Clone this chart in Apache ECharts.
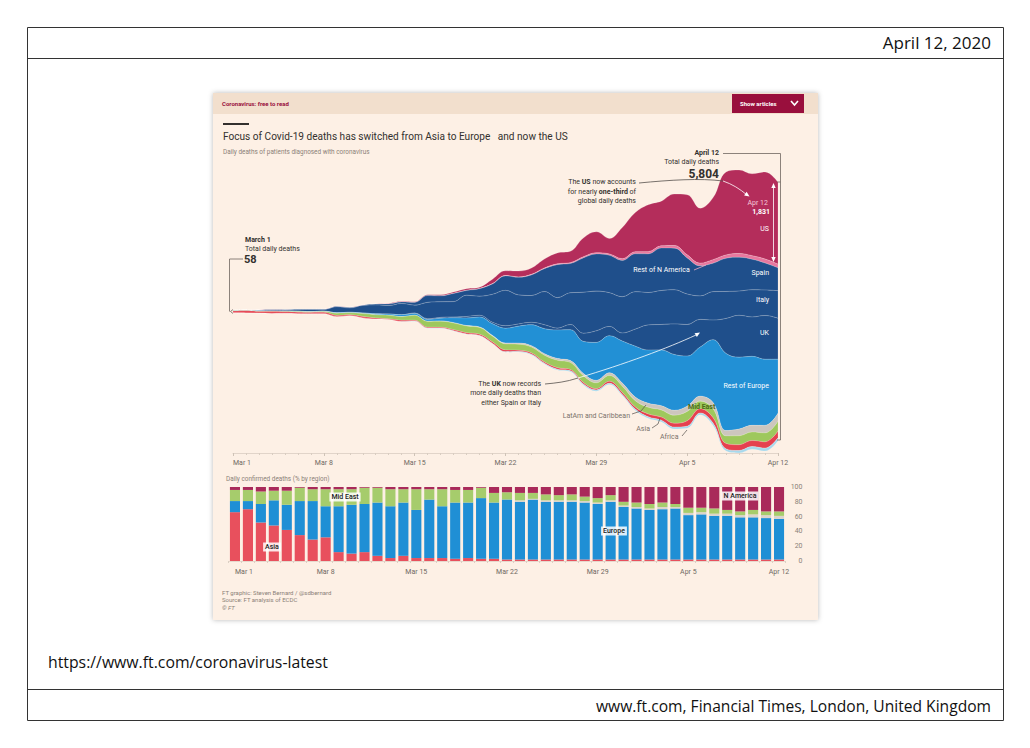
<!DOCTYPE html>
<html>
<head>
<meta charset="utf-8">
<title>Focus of Covid-19 deaths</title>
<script src="https://cdn.jsdelivr.net/npm/echarts@6/dist/echarts.min.js"></script>
<style>
  html, body { margin: 0; padding: 0; background: #fff; }
  #chart { width: 1030px; height: 748px; }
</style>
</head>
<body>
<div id="chart"></div>
<script>
// day labels, Mar 1 .. Apr 12
const days = ['Mar 1','Mar 2','Mar 3','Mar 4','Mar 5','Mar 6','Mar 7','Mar 8','Mar 9','Mar 10',
  'Mar 11','Mar 12','Mar 13','Mar 14','Mar 15','Mar 16','Mar 17','Mar 18','Mar 19','Mar 20',
  'Mar 21','Mar 22','Mar 23','Mar 24','Mar 25','Mar 26','Mar 27','Mar 28','Mar 29','Mar 30',
  'Mar 31','Apr 1','Apr 2','Apr 3','Apr 4','Apr 5','Apr 6','Apr 7','Apr 8','Apr 9',
  'Apr 10','Apr 11','Apr 12'];

// daily deaths per layer (top to bottom of the stream)
const us = [2,1,3,4,3,1,2,3,4,4,2,4,10,12,10,17,23,30,36,30,100,105,130,140,200,245,255,420,470,345,700,880,1050,1000,1150,1345,1230,1390,1860,1870,1835,1950,1831];
const restNA = [0,0,0,0,0,0,0,0,0,1,1,1,1,2,2,2,3,4,5,5,6,8,10,12,15,18,20,25,25,30,40,45,50,50,60,70,60,80,75,85,80,90,85];
const spain = [0,0,0,1,1,2,2,5,7,11,7,20,37,36,62,152,133,182,107,169,235,324,394,462,514,738,655,769,832,838,812,849,864,950,932,809,674,637,743,757,683,605,510];
const italy = [8,5,18,27,28,41,49,36,133,97,168,196,189,250,175,368,349,345,475,427,627,793,651,601,743,683,712,919,889,756,812,837,727,760,766,681,525,636,604,542,610,570,619];
const uk = [0,0,0,0,0,1,0,1,0,1,1,1,2,1,10,14,20,16,33,40,33,56,48,54,87,41,115,181,260,209,180,381,563,569,684,708,621,439,786,938,881,980,917];
const restEurope = [2,1,2,2,2,3,3,4,8,10,12,20,25,40,40,40,60,110,170,220,260,330,380,470,560,640,690,720,850,830,940,1140,1190,1250,1250,1120,1100,1410,1725,1610,1545,1480,1210];
const latAm = [0,0,0,0,0,0,0,0,1,1,1,2,2,3,3,4,5,8,10,12,15,20,25,30,35,40,45,50,55,60,70,80,90,95,110,120,110,140,120,150,150,170,180];
const midEast = [9,10,12,11,15,18,17,22,52,43,63,71,80,80,111,130,135,150,150,150,130,135,135,130,150,165,155,150,130,130,140,140,150,160,180,210,170,200,170,200,190,200,220];
const asia = [38,47,37,40,34,35,30,31,27,21,33,24,14,31,16,20,20,25,30,30,35,40,25,30,30,35,30,35,30,45,45,50,65,70,85,120,95,120,120,130,135,140,150];
const africa = [0,0,0,0,0,0,0,1,1,1,1,2,2,2,3,3,4,5,6,8,8,10,12,15,15,18,20,20,25,25,25,30,30,35,40,45,40,50,50,55,60,65,65];

// share of daily confirmed deaths by region, %
const asiaPct = [66,70,52,48,42,35,29,32,12,10,12,7,4,7,4,4,4,3,4,3,3,2,2,2,2,2,2,2,2,2,2,2,2,2,2,2,2,2,2,2,2,2,2];
const europePct = [15,11,25,34,34,46,52,42,62,66,65,72,70,72,65,79,70,76,75,82,76,81,78,81,78,78,78,77,75,78,71,69,67,68,69,60,61,59,59,57,57,56,55];
const otherPct = [0,0,0,0,0,0,0,0,0,0,0,0,0,0,0,0,0,0,0,0,0,0,2,1,2,2,2,2,2,2,2,2,2,3,2,3,3,3,3,3,4,4,4];
const midEastPct = [15,15,17,13,19,18,16,23,23,21,22,20,23,18,28,14,23,17,17,14,13,10,10,8,8,7,8,6,6,7,5,6,6,6,4,7,6,7,5,5,6,5,6];
const nAmericaPct = [4,4,6,5,5,1,3,3,3,3,1,1,3,3,3,3,3,4,4,1,8,7,8,8,10,11,10,13,15,11,20,21,23,21,23,28,28,29,31,33,31,33,33];

const yTicks = [0, 20, 40, 60, 80, 100];

const layers = [
    ['US', us, '#b42d5b'],
    ['Rest of N America', restNA, '#e8789f'],
    ['Spain', spain, '#1f4f8b'],
    ['Italy', italy, '#1f4f8b'],
    ['UK', uk, '#1f4f8b'],
    ['Rest of Europe', restEurope, '#2290d5'],
    ['LatAm and Caribbean', latAm, '#cdc6be'],
    ['Mid East', midEast, '#9ec85d'],
    ['Asia', asia, '#e5414f'],
    ['Africa', africa, '#a7d8ec']
];

const riverData = [];
layers.forEach(function (layer) {
    layer[1].forEach(function (v, i) {
        riverData.push([i, v, layer[0]]);
    });
});

const FT = 'Roboto, "Noto Sans", sans-serif';
const PAGE = '"Open Sans", Lato, sans-serif';
const INK = '#33302e';
const GREY = '#8b8178';

// stream geometry (used only to place annotation leaders)
const riverTop = 170;
const riverHeight = 283;
const riverMid = riverTop + riverHeight / 2;

function txt(x, y, text, font, fill, align, extra) {
    const el = {
        type: 'text', z: 100, x: x, y: y,
        style: {
            text: text, font: font, fill: fill || INK,
            textAlign: align || 'left', textVerticalAlign: 'middle'
        }
    };
    if (extra) Object.assign(el.style, extra);
    return el;
}
function line(points, color, width) {
    return {
        type: 'polyline', z: 100,
        shape: { points: points },
        style: { stroke: color, lineWidth: width || 0.8, fill: null }
    };
}
function curve(x1, y1, cx1, cy1, cx2, cy2, x2, y2, color, width) {
    return {
        type: 'bezierCurve', z: 100,
        shape: { x1: x1, y1: y1, cpx1: cx1, cpy1: cy1, cpx2: cx2, cpy2: cy2, x2: x2, y2: y2 },
        style: { stroke: color, lineWidth: width || 0.8, fill: null }
    };
}
function head(x, y, angle, color) {
    // small arrow head pointing along angle (radians)
    const l = 5, w = 2.2;
    const bx = x - l * Math.cos(angle), by = y - l * Math.sin(angle);
    const nx = -Math.sin(angle) * w, ny = Math.cos(angle) * w;
    return {
        type: 'polygon', z: 101,
        shape: { points: [[x, y], [bx + nx, by + ny], [bx - nx, by - ny]] },
        style: { fill: color }
    };
}
function tag(x, y, text) {
    return txt(x, y, text, '500 7px ' + FT, '#222', 'center', {
        backgroundColor: 'rgba(255,255,255,0.85)', padding: [1, 2]
    });
}

const chart = echarts.init(document.getElementById('chart'), null, { renderer: 'svg' });

const graphics = [
    // page frame
    { type: 'rect', z: -10, shape: { x: 27.5, y: 27.5, width: 976, height: 693 }, style: { fill: '#fff', stroke: '#333', lineWidth: 1 } },
    line([[27.5, 58.5], [1003.5, 58.5]], '#333', 1),
    line([[27.5, 689.5], [1003.5, 689.5]], '#333', 1),
    txt(991, 42, 'April 12, 2020', '17px ' + PAGE, '#111', 'right'),
    txt(48, 662, 'https://www.ft.com/coronavirus-latest', '15.8px ' + PAGE, '#111', 'left'),
    txt(991, 706, 'www.ft.com, Financial Times, London, United Kingdom', '15.6px ' + PAGE, '#111', 'right'),

    // FT panel
    { type: 'rect', z: -9, shape: { x: 213, y: 93, width: 605, height: 527 }, style: { fill: '#fdf0e5', shadowBlur: 5, shadowColor: 'rgba(0,0,0,0.28)' } },
    { type: 'rect', z: -8, shape: { x: 213, y: 93, width: 605, height: 21 }, style: { fill: '#f2dfcd' } },
    txt(222, 103.5, 'Coronavirus: free to read', 'bold 6px ' + FT, '#990f3d'),
    { type: 'rect', z: 100, shape: { x: 732, y: 94, width: 72, height: 19 }, style: { fill: '#990f3d' } },
    txt(740, 103.5, 'Show articles', 'bold 6px ' + FT, '#fff'),
    line([[791, 101], [794.5, 105], [798, 101]], '#fff', 1.6),
    { type: 'rect', z: 100, shape: { x: 223, y: 123, width: 26, height: 2 }, style: { fill: INK } },
    txt(223, 136, 'Focus of Covid-19 deaths has switched from Asia to Europe   and now the US', '10.1px ' + FT, INK),
    txt(223, 152, 'Daily deaths of patients diagnosed with coronavirus', '6.4px ' + FT, GREY),

    // March 1 call-out
    txt(245, 240, 'March 1', 'bold 7px ' + FT, INK),
    txt(245, 248.5, 'Total daily deaths', '7px ' + FT, INK),
    txt(244, 259, '58', 'bold 11px ' + FT, INK),
    line([[243, 259], [229.5, 259], [229.5, riverMid]], '#6e6660', 0.8),
    line([[233, riverMid - 2], [230.5, riverMid], [233, riverMid + 2]], '#6e6660', 0.8),

    // April 12 call-out
    txt(719, 153, 'April 12', 'bold 7px ' + FT, INK, 'right'),
    txt(719, 162, 'Total daily deaths', '7px ' + FT, INK, 'right'),
    txt(719, 173.5, '5,804', 'bold 12px ' + FT, INK, 'right'),
    line([[723, 153.5], [780.5, 153.5], [780.5, 440], [777, 440]], '#6e6660', 0.8),
    line([[777, 182], [780.5, 182]], '#6e6660', 0.8),

    // US share arrow
    line([[773.5, 186], [773.5, 259]], '#fff', 0.8),
    head(773.5, 183, -Math.PI / 2, '#fff'),
    head(773.5, 262, Math.PI / 2, '#fff'),
    txt(768, 203, 'Apr 12', '7px ' + FT, '#f6c9d8', 'right'),
    txt(770, 211.5, '1,831', 'bold 7px ' + FT, '#fff', 'right'),
    txt(769, 229, 'US', '7px ' + FT, '#fff', 'right'),
    {
        type: 'text', z: 100, x: 636, y: 191.5,
        style: {
            text: '{n|The }{b|US}{n| now accounts}\n{n|for nearly }{b|one-third}{n| of}\n{n|global daily deaths}',
            textAlign: 'right', textVerticalAlign: 'middle', fill: INK,
            rich: {
                n: { font: '7px ' + FT, fill: INK, lineHeight: 9.5 },
                b: { font: 'bold 7px ' + FT, fill: INK, lineHeight: 9.5 }
            }
        }
    },
    curve(639, 183, 670, 180, 700, 178, 723, 181, '#55504c', 0.8),
    curve(723, 181, 732, 184, 740, 189, 747, 195, '#fff', 0.8),
    head(749.5, 196.5, 0.6, '#fff'),

    // stream labels
    txt(661.5, 270, 'Rest of N America', '7px ' + FT, '#fff', 'center'),
    line([[694, 270], [706, 265]], '#f2a9c4', 0.8),
    txt(769, 272.5, 'Spain', '7px ' + FT, '#fff', 'right'),
    txt(769, 300, 'Italy', '7px ' + FT, '#fff', 'right'),
    txt(769, 333, 'UK', '7px ' + FT, '#fff', 'right'),
    txt(769, 385.5, 'Rest of Europe', '7px ' + FT, '#fff', 'right'),

    // UK call-out
    {
        type: 'text', z: 100, x: 541, y: 393,
        style: {
            text: '{n|The }{b|UK}{n| now records}\n{n|more daily deaths than}\n{n|either Spain or Italy}',
            textAlign: 'right', textVerticalAlign: 'middle', fill: INK,
            rich: {
                n: { font: '7px ' + FT, fill: INK, lineHeight: 9.5 },
                b: { font: 'bold 7px ' + FT, fill: INK, lineHeight: 9.5 }
            }
        }
    },
    curve(545, 384, 556, 383, 566, 382, 578, 378, '#55504c', 0.8),
    curve(578, 378, 625, 364, 668, 348, 696, 335, '#fff', 0.8),
    head(700, 332.5, -0.55, '#fff'),

    // small region labels
    txt(630, 416, 'LatAm and Caribbean', '7px ' + FT, '#7a726b', 'right'),
    line([[632, 414], [641, 411], [646, 405]], '#55504c', 0.7),
    txt(650, 429, 'Asia', '7px ' + FT, '#7a726b', 'right'),
    line([[652, 428], [658, 424], [660, 418]], '#55504c', 0.7),
    txt(660, 437, 'Africa', '7px ' + FT, '#7a726b', 'left'),
    line([[682, 436], [687, 430]], '#55504c', 0.7),
    txt(688, 407, 'Mid East', 'bold 7px ' + FT, '#4b6b16', 'left'),

    // bottom chart texts
    txt(226, 479, 'Daily confirmed deaths (% by region)', '6.4px ' + FT, GREY),
    tag(345, 497, 'Mid East'),
    tag(272, 547, 'Asia'),
    tag(614, 531, 'Europe'),
    tag(740, 496, 'N America'),

    // footer
    txt(222, 592, 'FT graphic: Steven Bernard / @sdbernard', '6px ' + FT, GREY),
    txt(222, 599.5, 'Source: FT analysis of ECDC', '6px ' + FT, GREY),
    txt(222, 607, '\u00a9 FT', 'italic 6px ' + FT, GREY)
];

function pctBar(name, values, color) {
    return {
        type: 'bar', name: name, stack: 'share',
        xAxisIndex: 0, yAxisIndex: 0,
        data: values,
        barCategoryGap: '22%',
        itemStyle: { color: color },
        silent: true
    };
}

chart.setOption({
    animation: false,
    backgroundColor: '#fff',
    textStyle: { fontFamily: FT },
    color: layers.map(function (l) { return l[2]; }),
    graphic: { elements: graphics },
    singleAxis: {
        type: 'value',
        min: 0, max: days.length - 1, interval: 7,
        left: 233, right: 1030 - 778, top: riverTop, height: riverHeight,
        axisLine: { lineStyle: { color: '#d9cdc1', width: 0.8 } },
        axisTick: { show: true, length: 3, lineStyle: { color: '#cfc3b7' } },
        minorTick: { show: true, splitNumber: 7, length: 2, lineStyle: { color: '#d9cdc1' } },
        splitLine: { show: false },
        axisLabel: {
            fontSize: 7, color: '#6f6862', margin: 6,
            alignMinLabel: 'left',
            formatter: function (v) { return days[v] || ''; }
        }
    },
    grid: { left: 228.5, width: 557, top: 487, height: 74 },
    xAxis: {
        type: 'category', data: days,
        axisLine: { lineStyle: { color: '#dfd3c7', width: 0.8 } },
        axisTick: { show: true, length: 2, interval: 0, lineStyle: { color: '#dcd0c4' } },
        axisLabel: { interval: 6, fontSize: 7, color: '#6f6862', margin: 7, alignMinLabel: 'left' }
    },
    yAxis: {
        type: 'value', position: 'right',
        min: yTicks[0], max: yTicks[yTicks.length - 1], interval: 20,
        axisLine: { show: false }, axisTick: { show: false },
        splitLine: { show: false },
        axisLabel: { fontSize: 7, color: GREY, align: 'right', margin: 17 }
    },
    series: [
        {
            type: 'themeRiver',
            singleAxisIndex: 0,
            boundaryGap: [0, 0],
            data: riverData,
            label: { show: false },
            emphasis: { disabled: true },
            itemStyle: { borderColor: 'rgba(255,255,255,0.28)', borderWidth: 0.6 },
            silent: true
        },
        pctBar('Asia', asiaPct, '#e8505d'),
        pctBar('Europe', europePct, '#1f8fd5'),
        pctBar('Other', otherPct, '#dbd4cb'),
        pctBar('Mid East', midEastPct, '#a6cc6c'),
        pctBar('N America', nAmericaPct, '#a92a5a')
    ]
});
</script>
</body>
</html>
